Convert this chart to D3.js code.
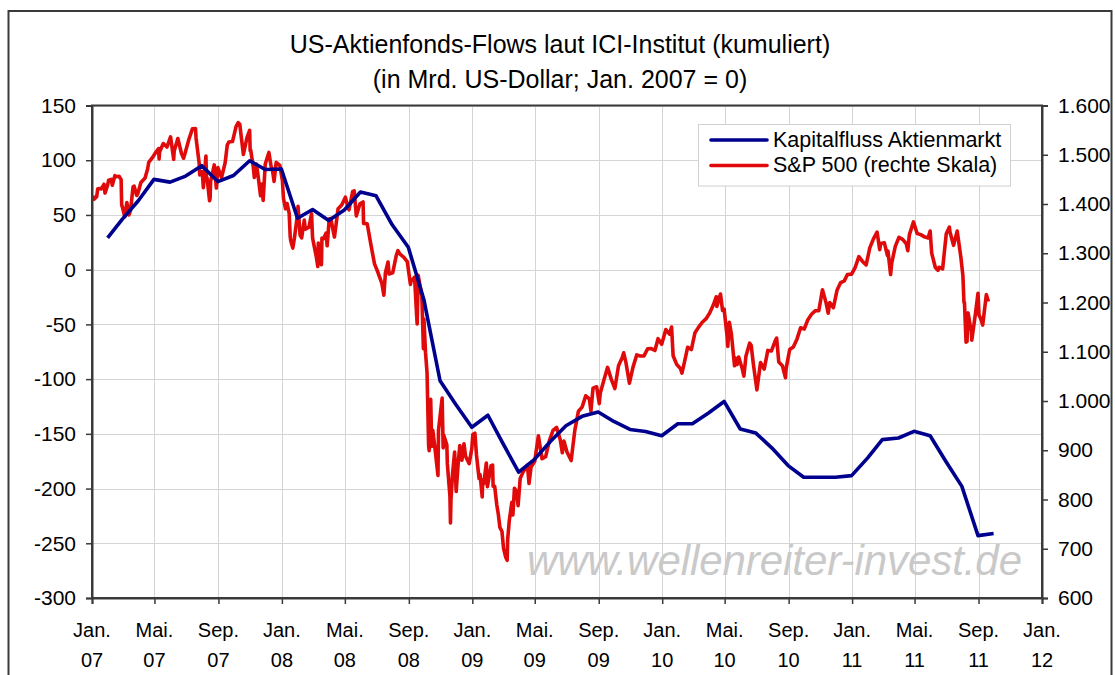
<!DOCTYPE html>
<html>
<head>
<meta charset="utf-8">
<script src="https://cdn.jsdelivr.net/npm/d3@7"></script>
<style>
  html, body { margin: 0; padding: 0; background: #fff; }
  svg { display: block; font-family: "Liberation Sans", Arial, sans-serif; }
</style>
</head>
<body>
<svg id="chart" width="1115" height="675"></svg>
<script>
// ---------------- DATA ----------------
const titleLines = ["US-Aktienfonds-Flows laut ICI-Institut (kumuliert)", "(in Mrd. US-Dollar; Jan. 2007 = 0)"];
const seriesNames = ["Kapitalfluss Aktienmarkt", "S&P 500 (rechte Skala)"];
const monthTickLabels = ["Jan.", "Mai.", "Sep."];
const leftTicks = [150, 100, 50, 0, -50, -100, -150, -200, -250, -300];
const rightTicks = [600, 700, 800, 900, 1000, 1100, 1200, 1300, 1400, 1500, 1600];
const watermark = "www.wellenreiter-invest.de";

// Cumulative flows (month-end)
const flowDates = [
  "2007-01-31","2007-02-28","2007-03-31","2007-04-30","2007-05-31","2007-06-30","2007-07-31","2007-08-31","2007-09-30","2007-10-31","2007-11-30","2007-12-31",
  "2008-01-31","2008-02-29","2008-03-31","2008-04-30","2008-05-31","2008-06-30","2008-07-31","2008-08-31","2008-09-30","2008-10-31","2008-11-30","2008-12-31",
  "2009-01-31","2009-02-28","2009-03-31","2009-04-30","2009-05-31","2009-06-30","2009-07-31","2009-08-31","2009-09-30","2009-10-31","2009-11-30","2009-12-31",
  "2010-01-31","2010-02-28","2010-03-31","2010-04-30","2010-05-31","2010-06-30","2010-07-31","2010-08-31","2010-09-30","2010-10-31","2010-11-30","2010-12-31",
  "2011-01-31","2011-02-28","2011-03-31","2011-04-30","2011-05-31","2011-06-30","2011-07-31","2011-08-31","2011-09-30"
];
const flowValues = [
  29, 46, 63, 82.5, 80, 85.5, 95, 80.5, 86, 99.5, 91.5, 92,
  47, 55, 45, 54.5, 71, 67.5, 41, 20.5, -27.6, -101.5, -123, -144,
  -133, -158, -185, -173.6, -157, -142.6, -134, -130, -138.7, -146, -147.8, -151.7,
  -140.8, -140.8, -131, -120.4, -145.6, -149.3, -163, -179, -189.7, -189.7, -189.7, -188.2,
  -172, -155.3, -153.8, -147.7, -151.7, -175, -198, -243, -241
];

const spSeries = [
["2007-01-03",1416.6],["2007-01-05",1409.7],["2007-01-10",1414.9],["2007-01-12",1430.7],["2007-01-17",1431.3],["2007-01-19",1430.5],["2007-01-24",1440.1],["2007-01-26",1422.2],["2007-01-31",1438.2],["2007-02-02",1448.4],["2007-02-07",1450.0],["2007-02-09",1438.1],["2007-02-14",1457.6],["2007-02-16",1455.5],["2007-02-22",1456.4],["2007-02-26",1449.4],["2007-02-27",1399.0],["2007-03-02",1387.2],["2007-03-05",1374.1],["2007-03-09",1402.8],["2007-03-13",1377.9],["2007-03-16",1386.9],["2007-03-21",1435.0],["2007-03-23",1436.1],["2007-03-28",1417.2],["2007-03-30",1420.9],["2007-04-05",1443.8],["2007-04-13",1452.9],["2007-04-18",1471.5],["2007-04-20",1484.4],["2007-04-27",1494.1],["2007-05-04",1505.6],["2007-05-09",1512.6],["2007-05-10",1491.5],["2007-05-11",1505.9],["2007-05-18",1522.8],["2007-05-25",1515.7],["2007-06-01",1536.3],["2007-06-07",1490.7],["2007-06-08",1507.7],["2007-06-15",1532.9],["2007-06-22",1502.6],["2007-06-26",1492.9],["2007-06-29",1503.4],["2007-07-06",1530.4],["2007-07-13",1552.5],["2007-07-19",1553.1],["2007-07-20",1534.1],["2007-07-26",1482.7],["2007-07-27",1458.9],["2007-08-01",1465.8],["2007-08-03",1433.1],["2007-08-08",1497.5],["2007-08-09",1453.1],["2007-08-10",1453.6],["2007-08-15",1406.7],["2007-08-16",1411.3],["2007-08-17",1445.9],["2007-08-24",1479.4],["2007-08-28",1432.4],["2007-08-31",1474.0],["2007-09-07",1453.6],["2007-09-14",1484.3],["2007-09-18",1519.8],["2007-09-21",1525.8],["2007-09-28",1526.8],["2007-10-05",1557.6],["2007-10-09",1565.2],["2007-10-12",1561.8],["2007-10-19",1500.6],["2007-10-26",1535.3],["2007-10-31",1549.4],["2007-11-01",1508.4],["2007-11-02",1509.7],["2007-11-07",1475.6],["2007-11-09",1453.7],["2007-11-13",1481.1],["2007-11-16",1458.7],["2007-11-21",1416.8],["2007-11-23",1440.7],["2007-11-26",1407.2],["2007-11-30",1481.1],["2007-12-07",1504.7],["2007-12-11",1477.7],["2007-12-14",1467.9],["2007-12-17",1445.9],["2007-12-21",1484.5],["2007-12-28",1478.5],
["2008-01-02",1447.2],["2008-01-04",1411.6],["2008-01-08",1390.2],["2008-01-11",1401.0],["2008-01-15",1381.0],["2008-01-17",1333.3],["2008-01-18",1325.2],["2008-01-22",1310.5],["2008-01-25",1330.6],["2008-01-31",1378.6],["2008-02-01",1395.4],["2008-02-05",1336.6],["2008-02-08",1331.3],["2008-02-13",1367.2],["2008-02-15",1349.0],["2008-02-22",1353.1],["2008-02-27",1380.0],["2008-02-29",1330.6],["2008-03-07",1293.4],["2008-03-10",1273.4],["2008-03-11",1320.7],["2008-03-14",1288.1],["2008-03-17",1276.6],["2008-03-18",1330.7],["2008-03-21",1329.5],["2008-03-26",1341.1],["2008-03-28",1315.2],["2008-04-01",1370.2],["2008-04-04",1370.4],["2008-04-11",1332.8],["2008-04-18",1390.3],["2008-04-25",1397.8],["2008-05-02",1413.9],["2008-05-07",1392.6],["2008-05-09",1388.3],["2008-05-16",1425.4],["2008-05-19",1426.6],["2008-05-23",1375.9],["2008-05-30",1400.4],["2008-06-05",1404.1],["2008-06-06",1360.7],["2008-06-13",1360.0],["2008-06-20",1317.9],["2008-06-27",1278.4],["2008-07-03",1262.9],["2008-07-11",1239.5],["2008-07-15",1214.9],["2008-07-18",1260.7],["2008-07-23",1282.2],["2008-07-25",1257.8],["2008-08-01",1260.3],["2008-08-08",1296.3],["2008-08-11",1305.3],["2008-08-15",1298.2],["2008-08-22",1292.2],["2008-08-29",1282.8],["2008-09-04",1236.8],["2008-09-05",1242.3],["2008-09-12",1251.7],["2008-09-15",1192.7],["2008-09-17",1156.4],["2008-09-19",1255.1],["2008-09-26",1213.3],["2008-09-29",1106.4],["2008-09-30",1166.4],["2008-10-03",1099.2],["2008-10-06",1056.9],["2008-10-09",909.9],["2008-10-10",899.2],["2008-10-13",1003.4],["2008-10-15",907.8],["2008-10-17",940.6],["2008-10-22",896.8],["2008-10-24",876.8],["2008-10-27",848.9],["2008-10-28",940.5],["2008-10-31",968.8],["2008-11-04",1005.8],["2008-11-06",904.9],["2008-11-07",931.0],["2008-11-13",911.3],["2008-11-14",873.3],["2008-11-19",806.6],["2008-11-20",752.4],["2008-11-21",800.0],["2008-11-24",851.8],["2008-11-28",896.2],["2008-12-01",816.2],["2008-12-05",876.1],["2008-12-08",909.7],["2008-12-12",879.7],["2008-12-16",913.2],["2008-12-19",887.9],["2008-12-26",872.8],["2008-12-31",903.3],
["2009-01-02",931.8],["2009-01-06",934.7],["2009-01-09",890.4],["2009-01-14",842.6],["2009-01-16",850.1],["2009-01-20",805.2],["2009-01-21",840.2],["2009-01-23",832.0],["2009-01-28",874.1],["2009-01-30",825.9],["2009-02-06",868.6],["2009-02-09",869.9],["2009-02-10",827.2],["2009-02-13",826.8],["2009-02-17",789.2],["2009-02-20",770.1],["2009-02-23",743.3],["2009-02-27",735.1],["2009-03-02",700.8],["2009-03-06",683.4],["2009-03-09",676.5],["2009-03-10",719.6],["2009-03-13",756.6],["2009-03-18",794.4],["2009-03-20",768.5],["2009-03-23",822.9],["2009-03-27",815.9],["2009-03-30",787.5],["2009-04-03",842.5],["2009-04-09",856.6],["2009-04-17",869.6],["2009-04-20",832.4],["2009-04-24",866.2],["2009-05-01",877.5],["2009-05-08",929.2],["2009-05-15",882.9],["2009-05-22",887.0],["2009-05-29",919.1],["2009-06-05",940.1],["2009-06-12",946.2],["2009-06-19",921.2],["2009-06-23",895.1],["2009-06-26",918.9],["2009-07-02",896.4],["2009-07-10",879.1],["2009-07-17",940.4],["2009-07-24",979.3],["2009-07-31",987.5],["2009-08-07",1010.5],["2009-08-14",1004.1],["2009-08-17",979.7],["2009-08-21",1026.1],["2009-08-28",1028.9],["2009-09-02",994.8],["2009-09-04",1016.4],["2009-09-11",1042.7],["2009-09-18",1068.3],["2009-09-25",1044.4],["2009-10-02",1025.2],["2009-10-09",1071.5],["2009-10-16",1087.7],["2009-10-19",1097.9],["2009-10-23",1079.6],["2009-10-30",1036.2],["2009-11-06",1069.3],["2009-11-13",1093.5],["2009-11-20",1091.4],["2009-11-27",1091.5],["2009-12-04",1106.0],["2009-12-11",1106.4],["2009-12-18",1102.5],["2009-12-24",1126.5],["2009-12-31",1115.1],
["2010-01-08",1145.0],["2010-01-15",1136.0],["2010-01-19",1150.2],["2010-01-22",1091.8],["2010-01-29",1073.9],["2010-02-05",1066.2],["2010-02-08",1056.7],["2010-02-12",1075.5],["2010-02-19",1109.2],["2010-02-26",1104.5],["2010-03-05",1138.7],["2010-03-12",1150.0],["2010-03-19",1159.9],["2010-03-26",1166.6],["2010-04-02",1178.1],["2010-04-09",1194.4],["2010-04-15",1211.7],["2010-04-16",1192.1],["2010-04-23",1217.3],["2010-04-27",1183.7],["2010-04-30",1186.7],["2010-05-06",1128.2],["2010-05-07",1110.9],["2010-05-10",1159.7],["2010-05-14",1135.7],["2010-05-20",1071.6],["2010-05-21",1087.7],["2010-05-25",1074.0],["2010-05-28",1089.4],["2010-06-04",1064.9],["2010-06-07",1050.5],["2010-06-11",1091.6],["2010-06-18",1117.5],["2010-06-21",1113.2],["2010-06-25",1076.8],["2010-07-02",1022.6],["2010-07-09",1078.0],["2010-07-16",1064.9],["2010-07-23",1102.7],["2010-07-30",1101.6],["2010-08-06",1121.6],["2010-08-09",1127.8],["2010-08-13",1079.3],["2010-08-20",1071.7],["2010-08-26",1047.2],["2010-08-27",1064.6],["2010-09-03",1104.5],["2010-09-10",1109.6],["2010-09-17",1125.6],["2010-09-24",1148.7],["2010-10-01",1146.2],["2010-10-08",1165.2],["2010-10-15",1176.2],["2010-10-22",1183.1],["2010-10-29",1183.3],["2010-11-05",1225.9],["2010-11-12",1199.2],["2010-11-16",1178.3],["2010-11-19",1199.7],["2010-11-26",1189.4],["2010-12-03",1224.7],["2010-12-10",1240.4],["2010-12-17",1243.9],["2010-12-23",1256.8],["2010-12-31",1257.6],
["2011-01-07",1271.5],["2011-01-14",1293.2],["2011-01-21",1283.4],["2011-01-28",1276.3],["2011-02-04",1310.9],["2011-02-11",1329.2],["2011-02-18",1343.0],["2011-02-23",1307.4],["2011-02-25",1319.9],["2011-03-04",1321.2],["2011-03-10",1295.1],["2011-03-11",1304.3],["2011-03-16",1256.9],["2011-03-18",1279.2],["2011-03-25",1313.8],["2011-04-01",1332.4],["2011-04-08",1328.2],["2011-04-15",1319.7],["2011-04-18",1305.1],["2011-04-21",1337.4],["2011-04-29",1363.6],["2011-05-06",1340.2],["2011-05-13",1337.8],["2011-05-20",1333.3],["2011-05-27",1331.1],["2011-05-31",1345.2],["2011-06-03",1300.2],["2011-06-10",1271.0],["2011-06-15",1265.4],["2011-06-17",1271.5],["2011-06-24",1268.5],["2011-07-01",1339.7],["2011-07-07",1353.2],["2011-07-08",1343.8],["2011-07-15",1316.1],["2011-07-22",1345.0],["2011-07-29",1292.3],["2011-08-02",1254.0],["2011-08-04",1200.1],["2011-08-05",1199.4],["2011-08-08",1119.5],["2011-08-09",1172.5],["2011-08-10",1120.8],["2011-08-11",1172.6],["2011-08-12",1178.8],["2011-08-18",1140.7],["2011-08-19",1123.5],["2011-08-26",1176.8],["2011-08-31",1218.9],["2011-09-02",1174.0],["2011-09-06",1165.2],["2011-09-09",1154.2],["2011-09-16",1216.0],["2011-09-20",1202.1]
];

// ---------------- DRAWING ----------------
const parse = d3.utcParse("%Y-%m-%d");
const svg = d3.select("#chart");
const W = 1115, H = 675;
const plot = { left: 92, right: 1042, top: 105.5, bottom: 598 };
const blue = "#00008f", red = "#e00a0a";

// outer frame
svg.append("rect").attr("x", 8.5).attr("y", 11).attr("width", 1103).attr("height", 700)
  .attr("fill", "#fff").attr("stroke", "#3a3a3a").attr("stroke-width", 2);

const x = d3.scaleUtc().domain([parse("2007-01-01"), parse("2012-01-01")]).range([plot.left, plot.right]);
const yL = d3.scaleLinear().domain([-300, 150]).range([plot.bottom, plot.top]);
const yR = d3.scaleLinear().domain([600, 1600]).range([plot.bottom, plot.top]);
const xTicks = x.ticks(d3.utcMonth.every(4));

// title
const title = svg.append("text").attr("text-anchor", "middle").attr("font-size", 25).attr("fill", "#000");
title.append("tspan").attr("x", 560).attr("y", 53).text(titleLines[0]);
title.append("tspan").attr("x", 560).attr("y", 88).text(titleLines[1]);

// grid
const grid = svg.append("g").attr("stroke", "#d4d4d4").attr("stroke-width", 1);
grid.selectAll("line.h").data(leftTicks).join("line")
  .attr("x1", plot.left).attr("x2", plot.right)
  .attr("y1", d => Math.round(yL(d)) + 0.5).attr("y2", d => Math.round(yL(d)) + 0.5);
grid.selectAll("line.v").data(xTicks).join("line")
  .attr("y1", plot.top).attr("y2", plot.bottom)
  .attr("x1", d => Math.round(x(d)) + 0.5).attr("x2", d => Math.round(x(d)) + 0.5);

// watermark
svg.append("text").attr("x", 527).attr("y", 575).attr("font-size", 42).attr("font-style", "italic")
  .attr("fill", "#c9c9c9").attr("textLength", 495).attr("lengthAdjust", "spacing").text(watermark);

// lines
const spData = spSeries.map(d => ({ date: parse(d[0]), value: d[1] }));
const flowData = flowDates.map((d, i) => ({ date: parse(d), value: flowValues[i] }));

svg.append("path").datum(spData)
  .attr("fill", "none").attr("stroke", red).attr("stroke-width", 3.6).attr("stroke-linejoin", "round")
  .attr("d", d3.line().x(d => x(d.date)).y(d => yR(d.value)));

svg.append("path").datum(flowData)
  .attr("fill", "none").attr("stroke", blue).attr("stroke-width", 3.6).attr("stroke-linejoin", "round")
  .attr("d", d3.line().x(d => x(d.date)).y(d => yL(d.value)));

// plot border
svg.append("rect").attr("x", plot.left).attr("y", plot.top)
  .attr("width", plot.right - plot.left).attr("height", plot.bottom - plot.top)
  .attr("fill", "none").attr("stroke", "#3a3a3a").attr("stroke-width", 2);

// axes
const fmtNum = d3.formatLocale({ decimal: ",", thousands: ".", grouping: [3], currency: ["", "€"] }).format(",");

const axL = svg.append("g").attr("transform", `translate(${plot.left},0)`)
  .call(d3.axisLeft(yL).tickValues(leftTicks).tickSize(6).tickPadding(10).tickFormat(d => d));
const axR = svg.append("g").attr("transform", `translate(${plot.right},0)`)
  .call(d3.axisRight(yR).tickValues(rightTicks).tickSize(6).tickPadding(10).tickFormat(d => fmtNum(d)));
const axB = svg.append("g").attr("transform", `translate(0,${plot.bottom})`)
  .call(d3.axisBottom(x).tickValues(xTicks).tickSize(6).tickFormat(""));

[axL, axR, axB].forEach(a => {
  a.select(".domain").attr("stroke", "#3a3a3a").attr("stroke-width", 2);
  a.selectAll(".tick line").attr("stroke", "#3a3a3a").attr("stroke-width", 1.5);
  a.selectAll("text").attr("font-family", "\"Liberation Sans\", Arial, sans-serif").attr("font-size", 21).attr("fill", "#000");
});

// x labels (two lines)
const xl = svg.append("g").attr("font-size", 20).attr("text-anchor", "middle").attr("fill", "#000");
xTicks.forEach(t => {
  const g = xl.append("text");
  g.append("tspan").attr("x", x(t)).attr("y", 637).text(monthTickLabels[t.getUTCMonth() / 4]);
  g.append("tspan").attr("x", x(t)).attr("y", 667).text(d3.utcFormat("%y")(t));
});

// legend
const lg = svg.append("g");
lg.append("rect").attr("x", 698.5).attr("y", 124.5).attr("width", 312).attr("height", 61.5)
  .attr("fill", "#fff").attr("stroke", "#d0d0d0").attr("stroke-width", 1);
[blue, red].forEach((c, i) => {
  const yy = 140 + i * 25.5;
  lg.append("line").attr("x1", 711).attr("x2", 767).attr("y1", yy).attr("y2", yy)
    .attr("stroke", c).attr("stroke-width", 3.6).attr("stroke-linecap", "round");
  lg.append("text").attr("x", 773).attr("y", yy + 6.5).attr("font-size", 21.5).attr("fill", "#000").text(seriesNames[i]);
});
</script>
</body>
</html>
